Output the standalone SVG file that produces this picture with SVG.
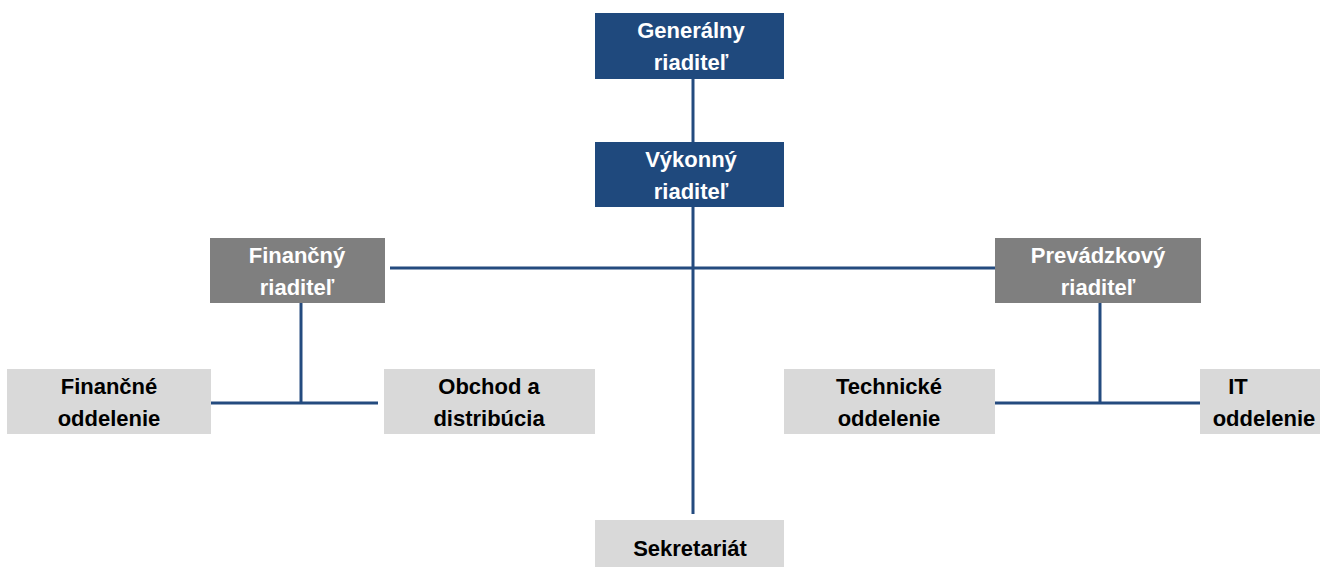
<svg xmlns="http://www.w3.org/2000/svg" width="1320" height="567" viewBox="0 0 1320 567">
<style>
.dark{fill:#1F497D}
.gray{fill:#7F7F7F}
.light{fill:#D9D9D9}
text{font-family:"Liberation Sans",Arial,sans-serif;font-weight:bold;font-size:22px;text-anchor:middle}
.w{fill:#FFFFFF}
.b{fill:#000000}
.c{stroke:#244B7F;stroke-width:3;fill:none}
</style>
<rect width="1320" height="567" fill="#FFFFFF"/>
<g id="connectors">
<line class="c" x1="693" y1="79" x2="693" y2="142"/>
<line class="c" x1="693" y1="207" x2="693" y2="514"/>
<line class="c" x1="390" y1="268" x2="996" y2="268"/>
<line class="c" x1="301" y1="303" x2="301" y2="403"/>
<line class="c" x1="207" y1="403" x2="378" y2="403"/>
<line class="c" x1="1100" y1="303" x2="1100" y2="403"/>
<line class="c" x1="988" y1="403" x2="1200" y2="403"/>
</g>
<g id="generalny">
<rect class="dark" x="595" y="13" width="189" height="66"/>
<text class="w" x="691" y="38">Generálny</text>
<text class="w" x="691" y="70">riaditeľ</text>
</g>
<g id="vykonny">
<rect class="dark" x="595" y="142" width="189" height="65"/>
<text class="w" x="691" y="167">Výkonný</text>
<text class="w" x="691" y="199">riaditeľ</text>
</g>
<g id="financny">
<rect class="gray" x="210" y="238" width="175" height="65"/>
<text class="w" x="297" y="263">Finančný</text>
<text class="w" x="297" y="295">riaditeľ</text>
</g>
<g id="prevadzkovy">
<rect class="gray" x="995" y="238" width="206" height="65"/>
<text class="w" x="1098" y="263">Prevádzkový</text>
<text class="w" x="1098" y="295">riaditeľ</text>
</g>
<g id="financne">
<rect class="light" x="7" y="369" width="204" height="65"/>
<text class="b" x="109" y="394">Finančné</text>
<text class="b" x="109" y="426">oddelenie</text>
</g>
<g id="obchod">
<rect class="light" x="384" y="369" width="211" height="65"/>
<text class="b" x="489" y="394">Obchod a</text>
<text class="b" x="489" y="426">distribúcia</text>
</g>
<g id="technicke">
<rect class="light" x="784" y="369" width="211" height="65"/>
<text class="b" x="889" y="394">Technické</text>
<text class="b" x="889" y="426">oddelenie</text>
</g>
<g id="it">
<rect class="light" x="1200" y="369" width="130" height="65"/>
<text class="b" x="1238" y="394">IT</text>
<text class="b" x="1264" y="426">oddelenie</text>
</g>
<g id="sekretariat">
<rect class="light" x="595" y="520" width="189" height="55"/>
<text class="b" x="690" y="556">Sekretariát</text>
</g>
</svg>
